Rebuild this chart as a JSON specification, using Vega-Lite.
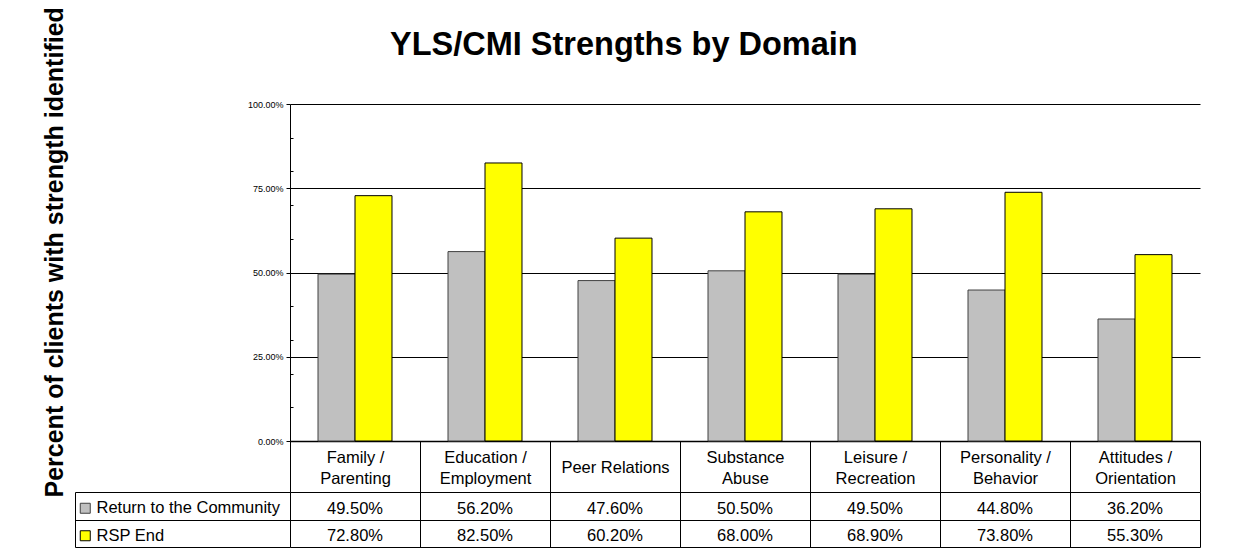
{
  "$schema": "https://vega.github.io/schema/vega-lite/v6.json",
  "autosize": "none",
  "padding": {"left": 290, "top": 104, "right": 949, "bottom": 454},
  "background": "white",
  "title": {
    "text": "YLS/CMI Strengths by Domain",
    "font": "Liberation Sans",
    "fontSize": 32.5,
    "fontWeight": "bold",
    "color": "black",
    "anchor": "start",
    "frame": "group",
    "dx": 100,
    "baseline": "alphabetic",
    "offset": -81
  },
  "config": {
    "view": {"stroke": null},
    "font": "Liberation Sans",
    "axis": {"labelFont": "Liberation Sans", "titleFont": "Liberation Sans", "labelColor": "black", "titleColor": "black"},
    "legend": {"labelFont": "Liberation Sans"}
  },
  "data": {
    "values": [
      {"domain": "Family / Parenting", "series": "Return to the Community", "value": 0.495},
      {"domain": "Family / Parenting", "series": "RSP End", "value": 0.728},
      {"domain": "Education / Employment", "series": "Return to the Community", "value": 0.562},
      {"domain": "Education / Employment", "series": "RSP End", "value": 0.825},
      {"domain": "Peer Relations", "series": "Return to the Community", "value": 0.476},
      {"domain": "Peer Relations", "series": "RSP End", "value": 0.602},
      {"domain": "Substance Abuse", "series": "Return to the Community", "value": 0.505},
      {"domain": "Substance Abuse", "series": "RSP End", "value": 0.68},
      {"domain": "Leisure / Recreation", "series": "Return to the Community", "value": 0.495},
      {"domain": "Leisure / Recreation", "series": "RSP End", "value": 0.689},
      {"domain": "Personality / Behavior", "series": "Return to the Community", "value": 0.448},
      {"domain": "Personality / Behavior", "series": "RSP End", "value": 0.738},
      {"domain": "Attitudes / Orientation", "series": "Return to the Community", "value": 0.362},
      {"domain": "Attitudes / Orientation", "series": "RSP End", "value": 0.553}
    ]
  },
  "bounds": "flush",
  "spacing": 51,
  "vconcat": [
    {
      "width": 910,
      "height": 337,
      "layer": [
        {
          "mark": {"type": "bar", "strokeWidth": 1},
          "encoding": {
            "x": {
              "field": "domain", "type": "nominal", "sort": null,
              "scale": {"paddingInner": 0, "paddingOuter": 0},
              "axis": {
                "orient": "bottom", "title": null,
                "domain": true, "domainColor": "black", "domainWidth": 1.5,
                "ticks": true, "tickBand": "extent", "tickSize": 51, "tickColor": "black",
                "labelFontSize": 16.5, "labelAngle": 0, "labelBaseline": "middle",
                "labelPadding": {"condition": {"test": "datum.label == 'Peer Relations'", "value": -24.5}, "value": -35},
                "labelLineHeight": 21, "labelOverlap": false, "labelFlush": false, "labelLimit": 200,
                "labelExpr": "datum.label == 'Peer Relations' ? datum.label : (indexof(datum.label, ' / ') > 0 ? [substring(datum.label, 0, indexof(datum.label, ' / ') + 2), substring(datum.label, indexof(datum.label, ' / ') + 3)] : split(datum.label, ' '))"
              }
            },
            "xOffset": {
              "field": "series", "type": "nominal",
              "sort": ["Return to the Community", "RSP End"],
              "scale": {"paddingInner": 0, "paddingOuter": 0.757}
            },
            "y": {
              "field": "value", "type": "quantitative", "stack": null,
              "scale": {"domain": [0, 1], "nice": false},
              "axis": {
                "values": [0, 0.25, 0.5, 0.75, 1], "format": ".2%",
                "labelFontSize": 9, "labelPadding": 3,
                "tickSize": 4, "tickColor": "black",
                "domainColor": "black",
                "grid": true, "gridColor": "black", "gridWidth": 1,
                "title": "Percent of clients with strength identified",
                "titleFontSize": 25, "titleFontWeight": "bold",
                "titleAngle": 270, "titleAlign": "left", "titleBaseline": "alphabetic",
                "titleX": -228, "titleY": 393
              }
            },
            "color": {
              "field": "series", "type": "nominal",
              "scale": {"domain": ["Return to the Community", "RSP End"], "range": ["#C0C0C0", "#FFFF00"]},
              "legend": {
                "title": null, "orient": "none", "legendX": -213, "legendY": 396,
                "padding": 0, "symbolType": "square", "symbolSize": 100,
                "symbolStrokeColor": "#333333", "symbolStrokeWidth": 1,
                "labelFontSize": 16.5, "labelColor": "black", "labelOffset": 3,
                "labelLimit": 300, "rowPadding": 10.5
              }
            },
            "stroke": {
              "field": "series", "type": "nominal",
              "scale": {"domain": ["Return to the Community", "RSP End"], "range": ["#404040", "#000000"]},
              "legend": null
            }
          }
        },
        {
          "mark": {"type": "rule", "strokeOpacity": 0},
          "encoding": {
            "y": {
              "field": "value", "type": "quantitative",
              "axis": {
                "orient": "left",
                "values": [0.1, 0.2, 0.3, 0.4, 0.6, 0.7, 0.8, 0.9],
                "labels": false, "domain": false, "grid": false,
                "tickSize": -3, "tickColor": "black", "title": null
              }
            }
          }
        }
      ],
      "resolve": {"axis": {"y": "independent"}}
    },
    {
      "width": 910,
      "height": 55,
      "mark": {"type": "text", "fontSize": 16.5, "color": "black", "dy": 3},
      "encoding": {
        "x": {
          "field": "domain", "type": "nominal", "sort": null,
          "scale": {"paddingInner": 0, "paddingOuter": 0},
          "axis": {
            "orient": "top", "title": null, "labels": false, "ticks": false, "domain": false,
            "grid": true, "gridColor": "black", "tickBand": "extent"
          }
        },
        "y": {
          "field": "series", "type": "nominal",
          "sort": ["Return to the Community", "RSP End"],
          "scale": {"paddingInner": 0, "paddingOuter": 0},
          "axis": {
            "orient": "left", "offset": 215, "title": null, "labels": false,
            "ticks": true, "tickSize": -215, "tickBand": "extent", "tickColor": "black",
            "domain": true, "domainColor": "black",
            "grid": true, "gridColor": "black"
          }
        },
        "text": {"field": "value", "type": "quantitative", "format": ".2%"}
      }
    }
  ]
}
